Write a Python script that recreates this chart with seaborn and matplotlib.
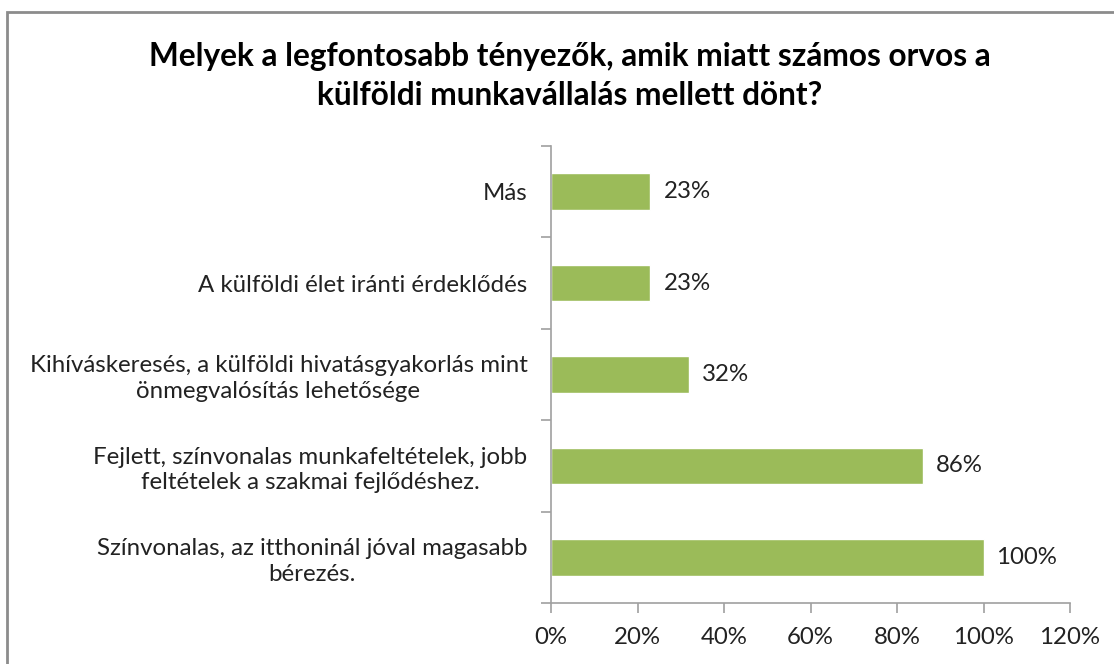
import numpy as np
import pandas as pd
import matplotlib
matplotlib.use('Agg')
import matplotlib.pyplot as plt
import seaborn as sns
from matplotlib.patches import Rectangle

# data, top to bottom as shown
categories = ['Más',
              'A külföldi élet iránti érdeklődés',
              'Kihíváskeresés, a külföldi hivatásgyakorlás mint\nönmegvalósítás lehetősége',
              'Fejlett, színvonalas munkafeltételek, jobb\nfeltételek a szakmai fejlődéshez.',
              'Színvonalas, az itthoninál jóval magasabb\nbérezés.']
values = [23, 23, 32, 86, 100]
value_labels = ['23%', '23%', '32%', '86%', '100%']
xticks = [0, 20, 40, 60, 80, 100, 120]
xtick_labels = ['0%', '20%', '40%', '60%', '80%', '100%', '120%']
title = 'Melyek a legfontosabb tényezők, amik miatt számos orvos a\nkülföldi munkavállalás mellett dönt?'

sns.set_style('white')
plt.rcParams['font.family'] = ['Lato', 'DejaVu Sans']

df = pd.DataFrame({'cat': categories, 'val': values})

fig = plt.figure(figsize=(11.14, 6.64), dpi=100)
ax = fig.add_axes([551 / 1114, 61 / 664, 519 / 1114, 457 / 664])

sns.barplot(data=df, x='val', y='cat', color='#9BBB59', saturation=1,
            width=0.4, ax=ax, orient='h')

fs = 17.3
ax.set_xlim(0, 120)
ax.set_ylim(len(categories) - 0.5, -0.5)
ax.set_xticks(xticks)
ax.set_xticklabels(xtick_labels, fontsize=fs, color='#222222')
ax.set_yticks(range(len(categories)))
ax.set_yticklabels(categories, fontsize=fs, color='#222222',
                   multialignment='center', linespacing=1.25)
ax.set_xlabel('')
ax.set_ylabel('')

# tick marks at category boundaries, not at labels
ax.tick_params(axis='y', which='major', left=True, length=0, pad=17)
ax.set_yticks(np.arange(-0.5, len(categories)), minor=True)
ax.tick_params(axis='y', which='minor', left=True, length=7, color='#A0A0A0', width=1.2)
ax.tick_params(axis='x', bottom=True, length=7, color='#A0A0A0', width=1.2, pad=10)

for s in ['top', 'right']:
    ax.spines[s].set_visible(False)
for s in ['left', 'bottom']:
    ax.spines[s].set_color('#A0A0A0')
    ax.spines[s].set_linewidth(1.2)

for i, (v, lab) in enumerate(zip(values, value_labels)):
    ax.text(v + 3, i, lab, va='center', ha='left', fontsize=fs, color='#222222')

fig.text(570 / 1114, 1 - 76 / 664, title, ha='center', va='center',
         fontsize=22.8, fontweight='bold', color='black', linespacing=1.45)

# outer chart border (cut off at right and bottom)
fig.patches.append(Rectangle((7 / 1114, -0.05), 1.2, 1 - 12 / 664 + 0.05,
                             transform=fig.transFigure, fill=False,
                             edgecolor='#8C8C8C', linewidth=2))

fig.savefig('out.png', dpi=100)
